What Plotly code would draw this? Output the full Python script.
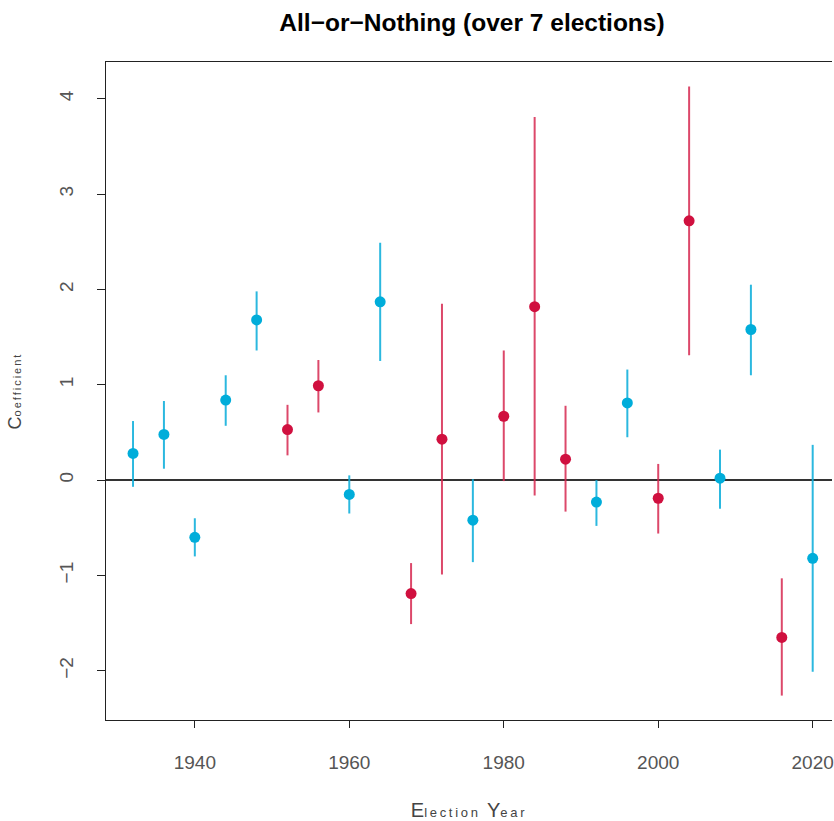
import plotly.graph_objects as go

years = [1932, 1936, 1940, 1944, 1948, 1952, 1956, 1960, 1964, 1968, 1972, 1976,
         1980, 1984, 1988, 1992, 1996, 2000, 2004, 2008, 2012, 2016, 2020]
coef = [0.28, 0.48, -0.60, 0.84, 1.68, 0.53, 0.99, -0.15, 1.87, -1.19, 0.43, -0.42,
        0.67, 1.82, 0.22, -0.23, 0.81, -0.19, 2.72, 0.02, 1.58, -1.65, -0.82]
lower = [-0.07, 0.12, -0.80, 0.57, 1.36, 0.26, 0.71, -0.35, 1.25, -1.51, -0.99, -0.86,
         -0.01, -0.16, -0.33, -0.48, 0.45, -0.56, 1.31, -0.30, 1.10, -2.26, -2.01]
upper = [0.62, 0.83, -0.40, 1.10, 1.98, 0.79, 1.26, 0.05, 2.49, -0.87, 1.85, 0.01,
         1.36, 3.81, 0.78, 0.00, 1.16, 0.17, 4.13, 0.32, 2.05, -1.03, 0.37]
party = ["D", "D", "D", "D", "D", "R", "R", "D", "D", "R", "R", "D",
         "R", "R", "R", "D", "D", "R", "R", "D", "D", "R", "D"]

colors = {"D": ("#00ADDA", "rgba(20,176,220,0.9)"), "R": ("#D0103F", "rgba(214,40,80,0.85)")}

fig = go.Figure()
for p in ["D", "R"]:
    idx = [i for i, v in enumerate(party) if v == p]
    xs = [years[i] for i in idx]
    ys = [coef[i] for i in idx]
    up = [upper[i] - coef[i] for i in idx]
    dn = [coef[i] - lower[i] for i in idx]
    fig.add_trace(go.Scatter(
        x=xs, y=ys, mode="markers",
        marker=dict(color=colors[p][0], size=11, line=dict(width=0)),
        error_y=dict(type="data", symmetric=False, array=up, arrayminus=dn,
                     color=colors[p][1], thickness=2, width=0),
        showlegend=False, hoverinfo="skip",
    ))

tickfont = dict(family="Liberation Sans, Arial, sans-serif", size=19, color="#555555")

fig.update_layout(
    width=834, height=821,
    margin=dict(l=106, r=0, t=62, b=101),
    paper_bgcolor="white", plot_bgcolor="white",
    title=dict(text="All\u2212or\u2212Nothing (over 7 elections)",
               font=dict(family="Liberation Sans, Arial, sans-serif", size=24.5, color="black", weight="bold"),
               x=472 / 834, xanchor="center", y=1 - 22 / 821, yanchor="middle"),
    xaxis=dict(
        range=[1928.5, 2022.5], tickvals=[1940, 1960, 1980, 2000, 2020],
        ticks="outside", ticklen=7, tickwidth=1, tickcolor="#222",
        showline=True, linecolor="#222", linewidth=1, mirror=True,
        showgrid=False, zeroline=False, tickfont=tickfont, ticklabelstandoff=18,
        ticklabeloverflow="allow",
        title=dict(text="E<span style='font-size:13px;letter-spacing:2.7px'>lection </span>Y<span style='font-size:13px;letter-spacing:2.7px'>ear</span>",
                   font=dict(family="Liberation Sans, Arial, sans-serif", size=20, color="#444444"),
                   standoff=34),
    ),
    yaxis=dict(
        range=[-2.516, 4.386], tickvals=[-2, -1, 0, 1, 2, 3, 4],
        ticktext=["\u22122", "\u22121", "0", "1", "2", "3", "4"],
        tickangle=-90,
        ticks="outside", ticklen=8, tickwidth=1, tickcolor="#222",
        showline=True, linecolor="#222", linewidth=1, mirror=False,
        showgrid=False, zeroline=True, zerolinecolor="#333333", zerolinewidth=1.5,
        tickfont=tickfont, ticklabelstandoff=16,
        title=dict(text="C<span style='font-size:11px;letter-spacing:2px'>oefficient</span>",
                   font=dict(family="Liberation Sans, Arial, sans-serif", size=18, color="#444444"),
                   standoff=30),
    ),
)

fig.write_html("out.html")
